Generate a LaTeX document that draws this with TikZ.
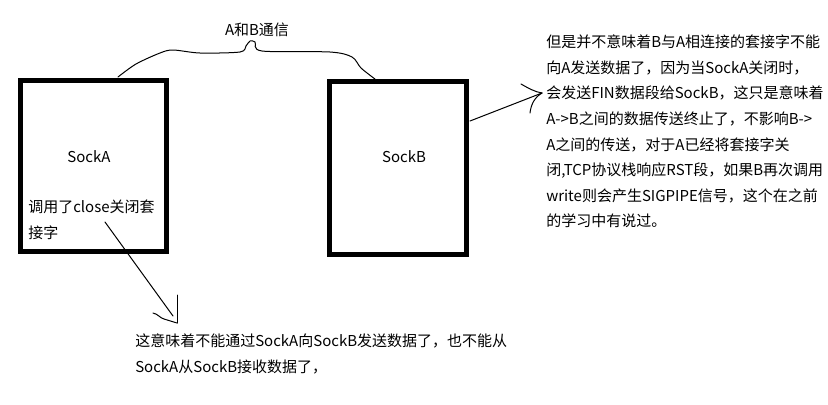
\documentclass[tikz,border=0pt]{standalone}
\usepackage{fontspec}
\setmainfont{Noto Sans CJK SC}
\begin{document}
\begin{tikzpicture}[x=0.75pt,y=-0.75pt,
  sockbox/.style={draw=black,line width=3.75pt,inner sep=0pt},
  txt/.style={inner sep=0pt,font=\fontsize{11.25pt}{19.2pt}\selectfont,text=black},
  thin/.style={draw=black,line width=0.75pt,line cap=round,line join=round}]
\useasboundingbox[fill=white] (0,0) rectangle (828,404);
% boxes
\node[sockbox,minimum width=109.5pt,minimum height=128.25pt] (boxA) at (93.5,166) {};
\node[sockbox,minimum width=102.75pt,minimum height=129.75pt] (boxB) at (398,168) {};
\node[txt] (sockA) at (89,157) {SockA};
\node[txt] (sockB) at (404,157) {SockB};
\node[txt,anchor=west,align=left] (closeA) at (28,220) {调用了close关闭套\\接字};
% brace
\coordinate (braceL) at (118,77);
\coordinate (braceR) at (375,79);
\draw[thin] plot[smooth,tension=0.5] coordinates {(braceL) (136,64) (160,53) (173,50) (200,53) (240,52) (246,46) (250,41) (255,42) (262,51) (330,52) (352,57) (361,68) (braceR)};
\node[txt] (comm) at (257,30) {A和B通信};
% right text
\node[txt,anchor=west,align=left] (textR) at (546,131.5) {但是并不意味着B与A相连接的套接字不能\\
向A发送数据了，因为当SockA关闭时，\\
会发送FIN数据段给SockB，这只是意味着\\
A->B之间的数据传送终止了，不影响B->\\
A之间的传送，对于A已经将套接字关\\
闭,TCP协议栈响应RST段，如果B再次调用\\
write则会产生SIGPIPE信号，这个在之前\\
的学习中有说过。};
% bottom text
\node[txt,anchor=west,align=left] (textB) at (135,354) {这意味着不能通过SockA向SockB发送数据了，也不能从\\
SockA从SockB接收数据了，};
% arrow B -> right text
\coordinate (bStart) at (470,121);
\coordinate (bTip) at (542,93);
\draw[thin] (bStart) -- (bTip);
\draw[thin] (521,84) .. controls (528,88) and (535,92) .. (bTip);
\draw[thin] (530,113) .. controls (531,104) and (535,97) .. (bTip);
% arrow A close -> bottom text
\coordinate (aStart) at (105,222);
\coordinate (aTip) at (173,316);
\coordinate (hTop) at (177,295);
\coordinate (hBot) at (177,323);
\draw[thin] (aStart) -- (aTip);
\draw[thin] (hTop) -- (hBot);
\draw[thin] (153,313) .. controls (158,314) and (160,318) .. (164,319) -- (hBot);
\end{tikzpicture}
\end{document}
